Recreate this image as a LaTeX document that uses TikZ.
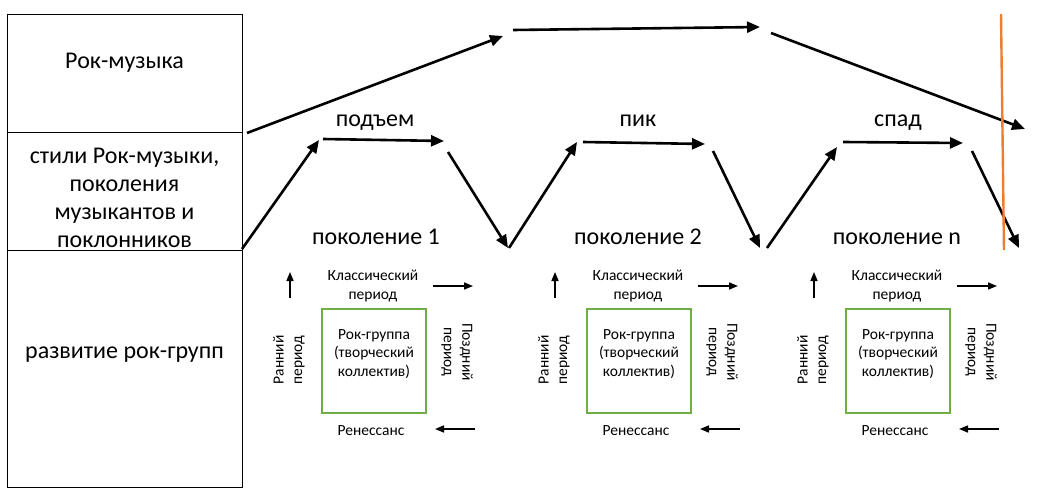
\documentclass[tikz,border=0pt]{standalone}
\usepackage{fontspec}
\setmainfont{Carlito}
\usetikzlibrary{arrows.meta}
\definecolor{boxgreen}{RGB}{112,173,71}
\definecolor{vorange}{RGB}{237,125,49}
\begin{document}
\begin{tikzpicture}[x=1pt,y=-1pt,
 big/.style={line width=2.6pt,-{Triangle[length=13pt,width=11pt]}},
 small/.style={line width=1.6pt,-{Triangle[length=9pt,width=7pt]}},
 cell/.style={draw,line width=0.8pt,inner sep=0,minimum width=235pt},
 lab/.style={font=\fontsize{24}{28}\selectfont,align=center,inner sep=0},
 sm/.style={font=\fontsize{15.5}{18.5}\selectfont,align=center,inner sep=0},
 gbox/.style={draw=boxgreen,line width=1.3pt,minimum width=104pt,minimum height=104pt,inner sep=0}]
\useasboundingbox (0,0) rectangle (1037,495);
% left column
\node[cell,minimum height=118pt] (c1) at (124.5,73) {};
\node[cell,minimum height=118pt] (c2) at (124.5,191) {};
\node[cell,minimum height=237pt] (c3) at (124.5,368.5) {};
\node[lab,anchor=base] (t1) at (124.5,69) {Рок-музыка};
\node[lab] (t2) at (124.5,198) {стили Рок-музыки,\\поколения\\музыкантов и\\поклонников};
\node[lab] (t3) at (124.5,355) {развитие рок-групп};
% top line
\coordinate (a1s) at (247,133); \coordinate (a1e) at (503,36);
\coordinate (a2s) at (513,30);  \coordinate (a2e) at (760,27);
\coordinate (a3s) at (771,33);  \coordinate (a3e) at (1025,129);
\draw[big] (a1s) -- (a1e);
\draw[big] (a2s) -- (a2e);
\draw[big] (a3s) -- (a3e);
% middle zigzag
\coordinate (b1s) at (242,249); \coordinate (b1e) at (319,140);
\coordinate (b2s) at (323,139); \coordinate (b2e) at (444,141);
\coordinate (b3s) at (448,152); \coordinate (b3e) at (508,248);
\coordinate (b4s) at (509,248); \coordinate (b4e) at (577,142);
\coordinate (b5s) at (583,142); \coordinate (b5e) at (705,144);
\coordinate (b6s) at (713,151); \coordinate (b6e) at (760,248);
\coordinate (b7s) at (767,248); \coordinate (b7e) at (837,147);
\coordinate (b8s) at (843,142); \coordinate (b8e) at (963,143);
\coordinate (b9s) at (972,151); \coordinate (b9e) at (1019,248);
\foreach \i in {1,...,9} {\draw[big] (b\i s) -- (b\i e);}
% phase labels
\node[lab,anchor=base] (p1) at (375,127) {подъем};
\node[lab,anchor=base] (p2) at (638,127) {пик};
\node[lab,anchor=base] (p3) at (898,127) {спад};
% generations
\foreach \dx/\n/\g/\gx in {0/1/a/376, 265/2/b/638, 524/n/c/897} {
 \node[gbox] (box\g) at (374+\dx,361) {};
 \node[sm] (band\g) at (374+\dx,354) {Рок-группа\\(творческий\\коллектив)};
 \node[sm] (klass\g) at (373+\dx,286) {Классический\\период};
 \node[sm,rotate=90] (early\g) at (289+\dx,360) {Ранний\\период};
 \node[sm,rotate=-90] (late\g) at (457+\dx,352) {Поздний\\период};
 \node[sm] (ren\g) at (371+\dx,431) {Ренессанс};
 \node[lab,anchor=base] (gen\g) at (\gx,244) {поколение \n};
 \coordinate (us\g) at (290+\dx,298); \coordinate (ue\g) at (290+\dx,272);
 \coordinate (rs\g) at (433+\dx,286); \coordinate (re\g) at (473+\dx,286);
 \coordinate (ls\g) at (475+\dx,429); \coordinate (le\g) at (435+\dx,429);
 \draw[small] (us\g) -- (ue\g);
 \draw[small] (rs\g) -- (re\g);
 \draw[small] (ls\g) -- (le\g);
}
% orange line
\coordinate (o1) at (1001,14); \coordinate (o2) at (1004,250);
\draw[vorange,line width=2.4pt] (o1) -- (o2);
\end{tikzpicture}
\end{document}
